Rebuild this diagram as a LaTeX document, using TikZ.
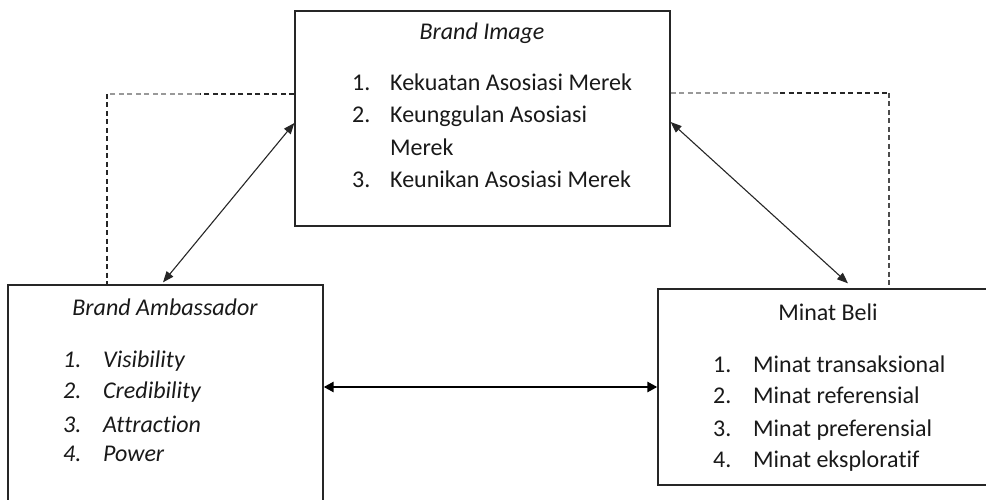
\documentclass[tikz,border=0pt]{standalone}
\usepackage{fontspec}
\setmainfont{Carlito}[Ligatures={NoCommon}]
\usetikzlibrary{arrows.meta}
\begin{document}
\begin{tikzpicture}[x=1pt,y=-1pt,
  box/.style={draw=black!85,line width=1.3pt,inner sep=0pt},
  txt/.style={anchor=base west,inner sep=0pt,font=\fontsize{24}{28}\selectfont,text=black!90},
  itxt/.style={anchor=base west,inner sep=0pt,font=\fontsize{24}{28}\selectfont\itshape,text=black!90},
  ttl/.style={anchor=base,inner sep=0pt,font=\fontsize{24}{28}\selectfont,text=black!90},
  ittl/.style={anchor=base,inner sep=0pt,font=\fontsize{24}{28}\selectfont\itshape,text=black!90},
  dsh/.style={line width=1.2pt,dash pattern=on 5pt off 3.5pt},
  rel/.style={line width=1.1pt,black!85,{Triangle[length=11pt,width=8.5pt]}-{Triangle[length=11pt,width=8.5pt]}},
  relthick/.style={line width=2.6pt,black,{Triangle[length=10pt,width=10pt]}-{Triangle[length=10pt,width=10pt]}}
]
\useasboundingbox (0,0) rectangle (986,500);
\clip (0,0) rectangle (986,500);

% boxes
\node[box,minimum width=375pt,minimum height=215pt] (bi) at (482.5,118.5) {};
\node[box,minimum width=315pt,minimum height=240pt] (ba) at (165.5,405) {};
\node[box,minimum width=340pt,minimum height=196pt] (mb) at (828,387) {};

% dashed links
\coordinate (lc) at (107,94);
\coordinate (lm) at (200,94);
\draw[dsh,black!85] ([yshift=24.5pt]bi.west) -- (lm);
\draw[dsh,black!40] (lm) -- (lc);
\draw[dsh,black!85] (lc) -- (lc |- ba.north);
\coordinate (rc) at (889,93);
\coordinate (rm) at (780,93);
\draw[dsh,black!40] ([yshift=25.5pt]bi.east) -- (rm);
\draw[dsh,black!85] (rm) -- (rc);
\draw[dsh,black!70] (rc) -- (rc |- mb.north);

% arrows
\draw[rel] ([yshift=-4.5pt]bi.west) -- ([xshift=-2.5pt,yshift=2pt]ba.north);
\draw[rel] ([yshift=-3.5pt]bi.east) -- ([xshift=20pt,yshift=5pt]mb.north);
\draw[relthick] (ba.east |- mb.west) -- (mb.west);

% Brand Image text
\node[ittl] (biT) at (482,40) {Brand Image};
\node[txt] (bi1n) at (352,91) {1.};
\node[txt] (bi1) at (390,91) {Kekuatan Asosiasi Merek};
\node[txt] (bi2n) at (352,123) {2.};
\node[txt] (bi2) at (390,123) {Keunggulan Asosiasi};
\node[txt] (bi2b) at (390,156) {Merek};
\node[txt] (bi3n) at (352,188) {3.};
\node[txt] (bi3) at (390,188) {Keunikan Asosiasi Merek};

% Brand Ambassador text
\node[ittl] (baT) at (165,315) {Brand Ambassador};
\node[itxt] (ba1n) at (63,367) {1.};
\node[itxt] (ba1) at (103,367) {Visibility};
\node[itxt] (ba2n) at (63,398) {2.};
\node[itxt] (ba2) at (103,398) {Credibility};
\node[itxt] (ba3n) at (63,432) {3.};
\node[itxt] (ba3) at (103,432) {Attraction};
\node[itxt] (ba4n) at (63,461) {4.};
\node[itxt] (ba4) at (103,461) {Power};

% Minat Beli text
\node[ttl] (mbT) at (828,320) {Minat Beli};
\node[txt] (mb1n) at (713,372) {1.};
\node[txt] (mb1) at (753,372) {Minat transaksional};
\node[txt] (mb2n) at (713,403) {2.};
\node[txt] (mb2) at (753,403) {Minat referensial};
\node[txt] (mb3n) at (713,436) {3.};
\node[txt] (mb3) at (753,436) {Minat preferensial};
\node[txt] (mb4n) at (713,467) {4.};
\node[txt] (mb4) at (753,467) {Minat eksploratif};
\end{tikzpicture}
\end{document}
